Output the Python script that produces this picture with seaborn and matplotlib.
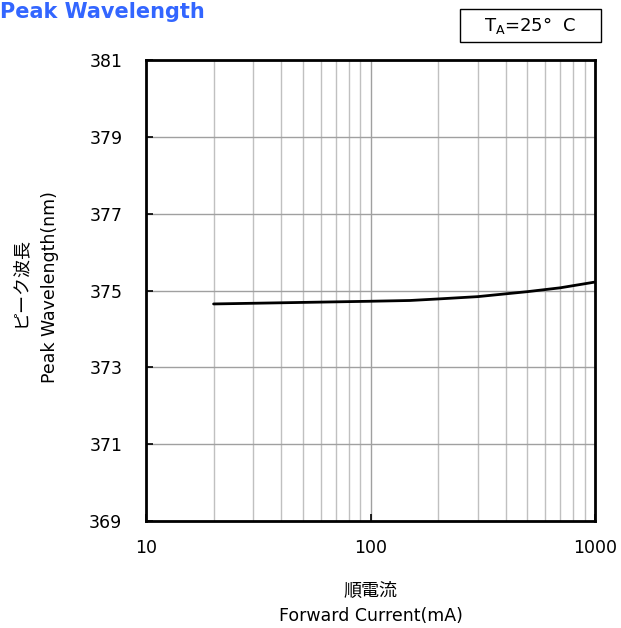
import matplotlib
matplotlib.use("Agg")
import matplotlib.pyplot as plt
import seaborn as sns
import pandas as pd
from matplotlib.ticker import FixedLocator, NullFormatter

current_mA = [20, 50, 100, 150, 200, 300, 500, 700, 1000]
peak_nm = [374.65, 374.69, 374.72, 374.74, 374.78, 374.84, 374.97, 375.07, 375.22]
y_ticks = [369, 371, 373, 375, 377, 379, 381]
x_ticks = [10, 100, 1000]
x_tick_labels = ["10", "100", "1000"]

sns.set_theme(style="white")
plt.rcParams['font.family'] = ['DejaVu Sans', 'Noto Sans CJK JP']
plt.rcParams['text.color'] = 'black'

df = pd.DataFrame({"I": current_mA, "WL": peak_nm})

fig = plt.figure(figsize=(6.21, 6.28), dpi=100)
ax = fig.add_axes([146/621, 1 - 521/628, (595-146)/621, (521-60)/628])

ax.set_xscale("log")
minor = [m * d for d in (10, 100) for m in range(2, 10)]
for v in minor:
    ax.axvline(v, color="#c0c0c0", lw=1.0, zorder=0)
ax.axvline(100, color="#a0a0a0", lw=1.0, zorder=0)
for v in y_ticks[1:-1]:
    ax.axhline(v, color="#a0a0a0", lw=1.0, zorder=0)

sns.lineplot(data=df, x="I", y="WL", ax=ax, color="black", lw=2.0, zorder=3)

ax.set_xlim(10, 1000)
ax.set_ylim(369, 381)
ax.xaxis.set_major_locator(FixedLocator(x_ticks))
ax.set_xticklabels(x_tick_labels)
ax.xaxis.set_minor_locator(FixedLocator(minor))
ax.xaxis.set_minor_formatter(NullFormatter())
ax.set_yticks(y_ticks)
ax.set_yticklabels([str(v) for v in y_ticks])
ax.tick_params(axis="both", which="major", labelsize=12.5, direction="in", length=5, width=1.2,
               colors="black", left=True, bottom=True)
ax.tick_params(axis="y", pad=17)
ax.tick_params(axis="x", pad=13)
ax.tick_params(axis="x", which="minor", bottom=False)
for s in ax.spines.values():
    s.set_color("black")
    s.set_linewidth(2.0)

ax.set_xlabel("")
ax.set_ylabel("")

fig.text(0.0, 1 - 12/628, "Peak Wavelength", color="#3366ff", fontsize=15, fontweight="bold", ha="left", va="center")

fig.text((146+595)/2/621, 1 - 591/628, "順電流", fontsize=13, ha="center", va="center", color="black",
         family=["Noto Sans CJK JP", "DejaVu Sans"])
fig.text((146+595)/2/621, 1 - 616/628, "Forward Current(mA)", fontsize=12.5, ha="center", va="center", color="black")
fig.text(20/621, 1 - 282/628, "ピーク波長", fontsize=13, ha="center", va="center", rotation=90, color="black",
         family=["Noto Sans CJK JP", "DejaVu Sans"])
fig.text(50/621, 1 - 287/628, "Peak Wavelength(nm)", fontsize=12.5, ha="center", va="center", rotation=90, color="black")

box = plt.Rectangle((460/621, 1 - 42/628), (601-460)/621, 33/628, transform=fig.transFigure,
                    facecolor="white", edgecolor="black", lw=1.0)
fig.add_artist(box)
fig.text(530/621, 1 - 26/628, r"T$_\mathregular{A}$=25°  C", fontsize=13, ha="center", va="center", color="black")

fig.savefig("out.png", dpi=100)
